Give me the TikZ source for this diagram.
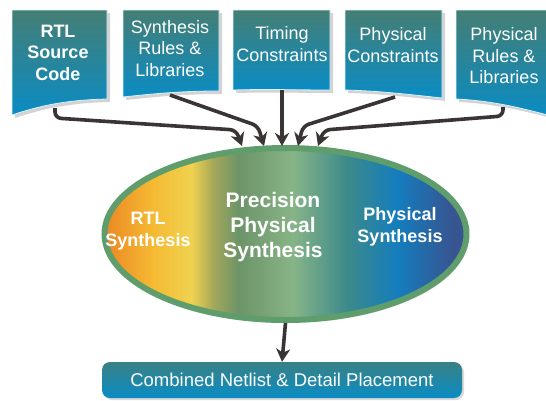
\documentclass[tikz,border=0pt]{standalone}
\usepackage{fontspec}
\setmainfont{Liberation Sans}
\usepackage{tikz}
\usetikzlibrary{arrows.meta, shapes.geometric, shadows}
\definecolor{boxtop}{RGB}{68,126,116}
\definecolor{boxbot}{RGB}{10,140,196}
\definecolor{ringgreen}{RGB}{95,158,108}
\definecolor{arrowgray}{RGB}{58,52,52}
\definecolor{c0}{RGB}{235,135,35}
\definecolor{c1}{RGB}{245,185,50}
\definecolor{c2}{RGB}{240,210,80}
\definecolor{c3}{RGB}{165,168,90}
\definecolor{c4}{RGB}{108,148,104}
\definecolor{c5}{RGB}{135,180,135}
\definecolor{c6}{RGB}{60,138,138}
\definecolor{c7}{RGB}{20,125,190}
\definecolor{c8}{RGB}{55,85,145}
\pgfdeclarehorizontalshading{ppshade}{100bp}{color(0bp)=(c0); color(25bp)=(c0);
  color(31.5bp)=(c1); color(37bp)=(c2); color(40bp)=(c3); color(43.5bp)=(c4);
  color(51bp)=(c5); color(58.5bp)=(c6); color(65.5bp)=(c7); color(73bp)=(c8);
  color(75bp)=(c8); color(100bp)=(c8)}
\tikzset{
  docbox/.style={top color=boxtop, bottom color=boxbot, draw=white!85!cyan, line width=0.8pt,
    drop shadow={shadow xshift=3pt, shadow yshift=-3pt, opacity=.35}},
  doctext/.style={text=white, align=center, font=\fontsize{18}{21.5}\selectfont},
  flow/.style={draw=arrowgray, line width=3.6pt, rounded corners=6pt,
    -{Stealth[length=13pt, width=14pt, inset=4pt]}},
  inner/.style={text=white, align=center, font=\bfseries\fontsize{18}{22}\selectfont},
}

\begin{document}
\begin{tikzpicture}[x=1pt, y=-1pt]
        \useasboundingbox (0,0) rectangle (546,400);
        % input documents
        \path[docbox] (12,10)--(107,10)--(107,99) .. controls (70,100) and (45,104) .. (12,115)--cycle;
        \path[docbox] (123,10)--(219,10)--(219,91) .. controls (185,91) and (160,93) .. (123,97)--cycle;
        \path[docbox] (233,10)--(330,10)--(330,90) .. controls (300,90) and (265,89) .. (233,90)--cycle;
        \path[docbox] (345,10)--(442,10)--(442,98) .. controls (405,94) and (380,91) .. (345,90)--cycle;
        \path[docbox] (456,10)--(552,10)--(552,116) .. controls (520,108) and (495,101) .. (456,99)--cycle;
        \node[doctext, font=\bfseries\fontsize{18}{21.5}\selectfont] (src) at (58,52.5) {RTL\\Source\\Code};
        \node[doctext] (synlib) at (170,48.5) {Synthesis\\Rules \&\\Libraries};
        \node[doctext] (timing) at (282,44) {Timing\\Constraints};
        \node[doctext] (phycon) at (393,45) {Physical\\Constraints};
        \node[doctext] (phylib) at (504,56) {Physical\\Rules \&\\Libraries};
        % synthesis ellipse
        \node[ellipse, minimum width=362pt, minimum height=172pt, draw=ringgreen, line width=6pt,
          shading=ppshade, drop shadow={shadow xshift=2pt, shadow yshift=-3pt, opacity=.25}] (pps) at (285.5,234) {};
        \node[inner] (rtlsyn) at (148,231) {RTL\\Synthesis};
        \node[inner, font=\bfseries\fontsize{21}{25}\selectfont] (precsyn) at (273,227) {Precision\\Physical\\Synthesis};
        \node[inner] (physyn) at (400,227) {Physical\\Synthesis};
        % output
        \node[minimum width=360pt, minimum height=36pt, rounded corners=8pt, top color=boxtop!80!boxbot,
          bottom color=boxbot, text=white, font=\fontsize{18.5}{22}\selectfont,
          drop shadow={shadow xshift=2pt, shadow yshift=-2pt, opacity=.3}] (netlist) at (282,380)
          {Combined Netlist \& Detail Placement};
        % arrows
        \coordinate (o1) at (55,108);
        \coordinate (o2) at (170,95);
        \coordinate (o3) at (282,90);
        \coordinate (o4) at (395,97);
        \coordinate (o5) at (503,107);
        \coordinate (t1) at (242,146);
        \coordinate (t2) at (264,146);
        \coordinate (t3) at (282,146);
        \coordinate (t4) at (298,146);
        \coordinate (t5) at (318,146);
        \draw[flow] (o1)--(55,118)--(236,130)--(t1);
        \draw[flow] (o2)--(258,126)--(t2);
        \draw[flow] (o3)--(t3);
        \draw[flow] (o4)--(303,126)--(t4);
        \draw[flow] (o5)--(503,116)--(324,130)--(t5);
        \draw[flow] (pps.south)--(netlist.north);
\end{tikzpicture}
\end{document}
